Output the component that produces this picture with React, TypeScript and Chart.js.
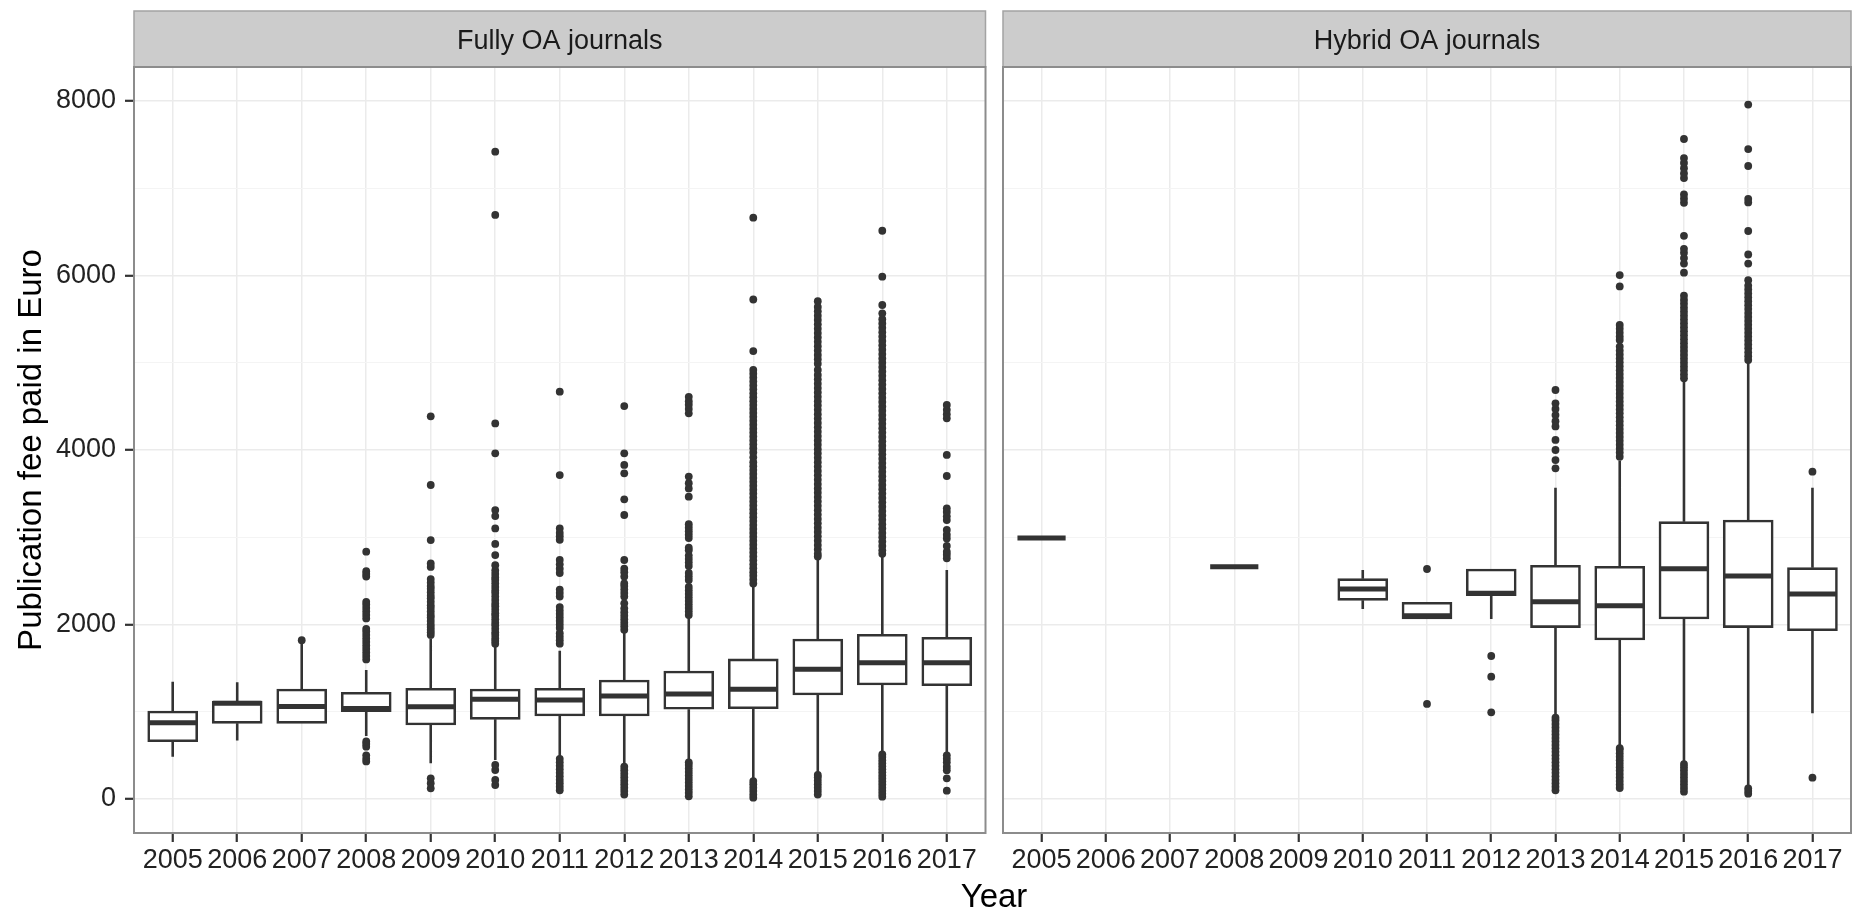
import React, { useEffect, useRef } from 'react';
import { Chart, registerables } from 'chart.js';

Chart.register(...registerables);

const YEARS = ['2005', '2006', '2007', '2008', '2009', '2010', '2011', '2012', '2013', '2014', '2015', '2016', '2017'];
const Y_TICKS = [0, 1000, 2000, 3000, 4000, 5000, 6000, 7000, 8000];
const PANEL_LABELS = ['Fully OA journals', 'Hybrid OA journals'];
const Y_TITLE = 'Publication fee paid in Euro';
const X_TITLE = 'Year';

// ---- Fully OA journals ----
const FULLY_LOW = [485, 669, 867, 722, 409, 447, 485, 390, 428, 218, 300, 540, 527];
const FULLY_Q1 = [657, 867, 867, 1001, 848, 913, 951, 951, 1028, 1035, 1192, 1307, 1299];
const FULLY_MED = [875, 1096, 1060, 1036, 1058, 1142, 1135, 1181, 1203, 1257, 1486, 1562, 1562];
const FULLY_Q3 = [1008, 1123, 1261, 1223, 1268, 1261, 1268, 1364, 1467, 1605, 1834, 1887, 1853];
const FULLY_HIGH = [1345, 1337, 1800, 1478, 1840, 1746, 1700, 1918, 2090, 2453, 2740, 2780, 2625];
const FULLY_OUT_2005: number[] = [];
const FULLY_OUT_2006: number[] = [];
const FULLY_OUT_2007 = [1820];
const FULLY_OUT_2008 = [430, 460, 500, 600, 630, 660, 1600, 1640, 1680, 1720, 1760, 1800, 1840, 1880, 1920, 1950, 2070, 2110, 2150, 2190, 2230, 2260, 2550, 2580, 2610, 2835];
const FULLY_OUT_2009 = [122, 180, 237, 1880, 1910, 1940, 1970, 2000, 2040, 2080, 2110, 2150, 2190, 2220, 2260, 2300, 2330, 2370, 2410, 2440, 2480, 2520, 2660, 2700, 2968, 3599, 4386];
const FULLY_OUT_2010 = [160, 218, 332, 390, 1780, 1810, 1840, 1880, 1910, 1950, 1990, 2020, 2060, 2100, 2130, 2170, 2210, 2240, 2280, 2320, 2360, 2390, 2430, 2470, 2510, 2540, 2580, 2620, 2680, 2796, 2923, 3101, 3243, 3311, 3962, 4305, 6694, 7419];
const FULLY_OUT_2011 = [100, 140, 180, 220, 260, 300, 340, 380, 420, 460, 1780, 1820, 1860, 1900, 1960, 2000, 2040, 2080, 2120, 2160, 2200, 2320, 2360, 2400, 2590, 2640, 2690, 2740, 2970, 3010, 3050, 3100, 3713, 4668];
const FULLY_OUT_2012 = [50, 90, 130, 170, 210, 250, 290, 330, 370, 1940, 1980, 2020, 2060, 2100, 2140, 2185, 2242, 2320, 2360, 2400, 2440, 2470, 2550, 2600, 2640, 2739, 3255, 3435, 3733, 3829, 3962, 4504];
const FULLY_OUT_2013 = [30, 70, 110, 150, 190, 230, 270, 310, 350, 390, 420, 2110, 2150, 2190, 2230, 2270, 2310, 2350, 2390, 2430, 2510, 2550, 2590, 2670, 2710, 2750, 2790, 2850, 2880, 2990, 3030, 3070, 3110, 3150, 3465, 3560, 3620, 3695, 4420, 4470, 4520, 4560, 4610];
const FULLY_OUT_2014 = [15, 50, 90, 130, 170, 205, 2470, 2515, 2560, 2600, 2645, 2690, 2735, 2780, 2825, 2870, 2915, 2960, 3005, 3050, 3095, 3140, 3185, 3230, 3275, 3320, 3365, 3410, 3455, 3500, 3545, 3590, 3635, 3680, 3725, 3770, 3815, 3860, 3916, 3972, 4020, 4065, 4110, 4155, 4200, 4245, 4290, 4335, 4380, 4425, 4470, 4515, 4560, 4605, 4650, 4695, 4740, 4785, 4830, 4875, 4917, 5134, 5725, 6663];
const FULLY_OUT_2015 = [50, 90, 130, 170, 210, 250, 275, 2780, 2810, 2860, 2910, 2960, 3010, 3060, 3110, 3160, 3210, 3260, 3310, 3360, 3410, 3460, 3510, 3560, 3610, 3660, 3710, 3760, 3810, 3860, 3910, 3960, 4010, 4060, 4110, 4160, 4210, 4260, 4310, 4360, 4410, 4460, 4510, 4560, 4610, 4660, 4710, 4760, 4810, 4860, 4917, 4990, 5040, 5090, 5140, 5190, 5240, 5290, 5340, 5390, 5440, 5490, 5540, 5590, 5640, 5706];
const FULLY_OUT_2016 = [26, 60, 95, 130, 165, 200, 235, 270, 305, 340, 375, 410, 445, 480, 510, 2810, 2850, 2900, 2950, 3000, 3050, 3100, 3150, 3200, 3250, 3300, 3350, 3400, 3450, 3500, 3550, 3600, 3650, 3700, 3750, 3800, 3850, 3900, 3950, 4000, 4050, 4100, 4150, 4200, 4250, 4300, 4350, 4400, 4450, 4500, 4550, 4600, 4650, 4700, 4750, 4800, 4850, 4900, 4950, 5000, 5050, 5100, 5150, 5200, 5250, 5300, 5350, 5400, 5450, 5500, 5567, 5662, 5987, 6513];
const FULLY_OUT_2017 = [95, 237, 330, 370, 420, 460, 500, 2758, 2800, 2835, 2900, 2986, 3030, 3083, 3197, 3240, 3290, 3331, 3702, 3943, 4363, 4410, 4460, 4516];
const FULLY_OUT = [FULLY_OUT_2005, FULLY_OUT_2006, FULLY_OUT_2007, FULLY_OUT_2008, FULLY_OUT_2009, FULLY_OUT_2010, FULLY_OUT_2011, FULLY_OUT_2012, FULLY_OUT_2013, FULLY_OUT_2014, FULLY_OUT_2015, FULLY_OUT_2016, FULLY_OUT_2017];

// ---- Hybrid OA journals ----
const HYB_LOW = [2990, null, null, 2663, null, 2178, 2063, 2063, 944, 600, 430, 138, 982];
const HYB_Q1 = [2990, null, null, 2663, null, 2277, 2063, 2330, 1964, 1822, 2063, 1964, 1929];
const HYB_MED = [2990, null, null, 2663, null, 2407, 2101, 2357, 2262, 2216, 2640, 2556, 2350];
const HYB_Q3 = [2990, null, null, 2663, null, 2525, 2254, 2636, 2678, 2668, 3179, 3198, 2651];
const HYB_HIGH = [2990, null, null, 2663, null, 2625, 2254, 2636, 3568, 3880, 4790, 5000, 3568];
const HYB_OUT_2011 = [1089, 2636];
const HYB_OUT_2012 = [993, 1402, 1639];
const HYB_OUT_2013 = [100, 140, 180, 220, 260, 300, 340, 380, 420, 460, 500, 540, 580, 620, 660, 700, 740, 780, 820, 860, 900, 932, 3790, 3885, 4000, 4115, 4270, 4330, 4400, 4470, 4535, 4688];
const HYB_OUT_2014 = [126, 165, 205, 245, 285, 325, 365, 405, 445, 485, 525, 565, 583, 3924, 3970, 4015, 4060, 4105, 4150, 4195, 4240, 4285, 4330, 4375, 4420, 4465, 4510, 4555, 4600, 4645, 4690, 4735, 4780, 4825, 4870, 4915, 4960, 5005, 5050, 5095, 5140, 5185, 5262, 5300, 5345, 5390, 5433, 5875, 6005];
const HYB_OUT_2015 = [84, 125, 165, 205, 245, 285, 325, 365, 400, 4821, 4865, 4910, 4955, 5000, 5045, 5090, 5135, 5180, 5225, 5270, 5315, 5360, 5405, 5450, 5495, 5540, 5585, 5630, 5675, 5720, 5769, 6032, 6137, 6200, 6260, 6306, 6455, 6833, 6880, 6929, 7117, 7170, 7230, 7290, 7346, 7565];
const HYB_OUT_2016 = [61, 90, 122, 5032, 5075, 5120, 5165, 5210, 5255, 5300, 5345, 5390, 5435, 5480, 5525, 5570, 5615, 5660, 5705, 5750, 5795, 5840, 5885, 5946, 6137, 6241, 6510, 6838, 6877, 7255, 7449, 7959];
const HYB_OUT_2017 = [244, 3752];
const HYB_OUT = [[], [], [], [], [], [], HYB_OUT_2011, HYB_OUT_2012, HYB_OUT_2013, HYB_OUT_2014, HYB_OUT_2015, HYB_OUT_2016, HYB_OUT_2017];

const FONT = '"Liberation Sans", Arial, Helvetica, sans-serif';
const INK = '#333333';
const W = 1855;
const H = 914;

function buildDatasets(lo: any[], q1: any[], med: any[], q3: any[], hi: any[], out: number[][]) {
  const boxes: any[] = [];
  const whiskers: any[] = [];
  const medians: any[] = [];
  const points: any[] = [];
  for (let i = 0; i < YEARS.length; i++) {
    if (med[i] == null) continue;
    const x = i + 1;
    boxes.push({ x, y: [q1[i], q3[i]] });
    whiskers.push({ x, y: lo[i] }, { x, y: q1[i] }, { x, y: null }, { x, y: q3[i] }, { x, y: hi[i] }, { x, y: null });
    medians.push({ x: x - 0.375, y: med[i] }, { x: x + 0.375, y: med[i] }, { x: x + 0.375, y: null });
    out[i].forEach((v) => points.push({ x, y: v }));
  }
  return [
    { type: 'line', data: whiskers, borderColor: INK, borderWidth: 2.6, pointRadius: 0, spanGaps: false, fill: false, order: 4 },
    { type: 'bar', data: boxes, backgroundColor: '#ffffff', borderColor: INK, borderWidth: 2.6, borderSkipped: false, barThickness: 50, order: 3 },
    { type: 'line', data: medians, borderColor: INK, borderWidth: 5, pointRadius: 0, spanGaps: false, fill: false, borderCapStyle: 'butt', order: 2 },
    { type: 'scatter', data: points, pointRadius: 3.9, pointBackgroundColor: INK, pointBorderWidth: 0, borderWidth: 0, showLine: false, order: 1 },
  ];
}

function panelPlugin(label: string, drawXTitle: boolean) {
  return {
    id: 'panelDecor',
    afterDraw(chart: any) {
      const { ctx, chartArea: a } = chart;
      ctx.save();
      const stripTop = 11;
      ctx.fillStyle = '#CCCCCC';
      ctx.fillRect(a.left, stripTop, a.right - a.left, a.top - stripTop);
      ctx.strokeStyle = '#A3A3A3';
      ctx.lineWidth = 1.5;
      ctx.strokeRect(a.left, stripTop, a.right - a.left, a.top - stripTop);
      ctx.strokeStyle = '#8C8C8C';
      ctx.lineWidth = 2;
      ctx.strokeRect(a.left, a.top, a.right - a.left, a.bottom - a.top);
      ctx.fillStyle = '#1A1A1A';
      ctx.font = `27px ${FONT}`;
      ctx.textAlign = 'center';
      ctx.textBaseline = 'alphabetic';
      ctx.fillText(label, (a.left + a.right) / 2, 49);
      if (drawXTitle) {
        ctx.fillStyle = '#000000';
        ctx.font = `33px ${FONT}`;
        ctx.fillText(X_TITLE, 994, 907);
      }
      ctx.restore();
    },
  };
}

function makeConfig(panel: number) {
  const isLeft = panel === 0;
  const datasets = isLeft
    ? buildDatasets(FULLY_LOW, FULLY_Q1, FULLY_MED, FULLY_Q3, FULLY_HIGH, FULLY_OUT)
    : buildDatasets(HYB_LOW, HYB_Q1, HYB_MED, HYB_Q3, HYB_HIGH, HYB_OUT);
  return {
    type: 'bar',
    data: { datasets },
    options: {
      responsive: false,
      animation: false,
      devicePixelRatio: 1,
      layout: { padding: isLeft ? { top: 67, right: W - 985.5, bottom: 0, left: 0 } : { top: 67, right: 2, bottom: 0, left: 0 } },
      plugins: { legend: { display: false }, tooltip: { enabled: false } },
      scales: {
        x: {
          type: 'linear',
          min: 0.4,
          max: 13.6,
          offset: false,
          afterBuildTicks: (s: any) => {
            s.ticks = YEARS.map((_, i) => ({ value: i + 1 }));
          },
          afterFit: (s: any) => {
            s.height = H - 833;
          },
          border: { display: false },
          grid: { color: '#EBEBEB', lineWidth: 1.5, offset: false, drawTicks: true, tickLength: 9, tickColor: INK, tickWidth: 2.2 },
          ticks: {
            autoSkip: false,
            maxRotation: 0,
            minRotation: 0,
            padding: 2,
            color: '#222222',
            font: { family: FONT, size: 27 },
            callback: (v: any) => YEARS[Math.round(v) - 1] ?? '',
          },
        },
        y: {
          type: 'linear',
          min: -390,
          max: 8390,
          afterBuildTicks: (s: any) => {
            s.ticks = Y_TICKS.map((v) => ({ value: v }));
          },
          afterFit: (s: any) => {
            s.width = isLeft ? 134 : 1003;
          },
          border: { display: false },
          grid: {
            color: (c: any) => (c.tick && c.tick.value % 2000 === 0 ? '#EBEBEB' : '#F4F4F4'),
            lineWidth: (c: any) => (c.tick && c.tick.value % 2000 === 0 ? 1.6 : 1),
            drawTicks: isLeft,
            tickLength: 9,
            tickColor: (c: any) => (c.tick && c.tick.value % 2000 === 0 ? INK : 'rgba(0,0,0,0)'),
            tickWidth: 2.2,
          },
          ticks: {
            display: isLeft,
            padding: 9,
            color: '#222222',
            font: { family: FONT, size: 27 },
            callback: (v: any) => (v % 2000 === 0 ? String(v) : ''),
          },
          title: {
            display: isLeft,
            text: Y_TITLE,
            color: '#000000',
            font: { family: FONT, size: 33 },
            padding: { top: 12, bottom: 0 },
          },
        },
      },
    },
    plugins: [panelPlugin(PANEL_LABELS[panel], isLeft)],
  };
}

function PanelCanvas({ panel }: { panel: number }) {
  const ref = useRef<HTMLCanvasElement | null>(null);
  useEffect(() => {
    if (!ref.current) return;
    const chart = new Chart(ref.current, makeConfig(panel) as any);
    return () => chart.destroy();
  }, [panel]);
  return (
    <canvas
      ref={ref}
      width={W}
      height={H}
      style={{ position: 'absolute', left: 0, top: 0, width: W, height: H }}
    />
  );
}

export default function App() {
  return (
    <div style={{ position: 'absolute', left: 0, top: 0, width: W, height: H, background: '#ffffff', overflow: 'hidden' }}>
      <PanelCanvas panel={0} />
      <PanelCanvas panel={1} />
    </div>
  );
}
